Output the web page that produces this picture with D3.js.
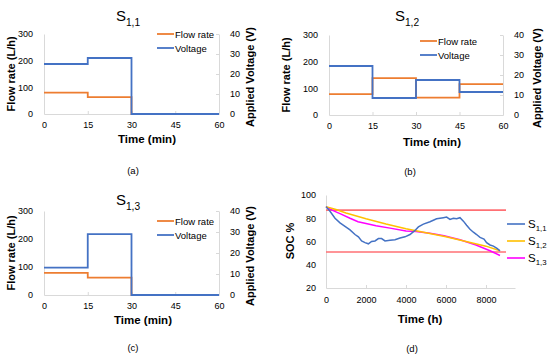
<!DOCTYPE html>
<html>
<head>
<meta charset="utf-8">
<script src="https://cdn.jsdelivr.net/npm/d3@7"></script>
<style>
  body { margin: 0; background: #fff; }
  text { font-family: "Liberation Sans", Arial, sans-serif; fill: #000; }
</style>
</head>
<body>
<script>
// ==========================================
// DATA
// ==========================================

// step profiles (minutes) for S1,1 / S1,2 / S1,3
const stepTimes = [0, 15, 30, 45, 60];
const flowA = [80, 63, 0, 0];
const voltA = [25, 28, 0, 0];
const flowB = [78, 138, 65, 116];
const voltB = [24.5, 8.5, 17.5, 11.5];
const flowC = [79, 62, 0, 0];
const voltC = [13, 29, 0, 0];

const minTicks = [0, 15, 30, 45, 60];
const flowTicks = [0, 100, 200, 300];
const voltTicks = [0, 10, 20, 30, 40];

// SOC over the year (hours)
const timeS11 = [0, 200, 450, 700, 950, 1200, 1450, 1620, 1780, 1950, 2120, 2280, 2450, 2620, 2780, 2950,
  3200, 3450, 3700, 3950, 4200, 4450, 4620, 4870, 5200, 5530, 5870, 6030, 6200, 6370, 6530, 6700,
  6870, 7030, 7200, 7370, 7530, 7700, 7900, 8030, 8200, 8370, 8550, 8700];
const socS11 = [90, 86, 80, 76, 73, 70, 66, 64, 60.5, 59, 58, 60, 60.5, 62.5, 62.5, 60.5,
  61, 61.5, 63, 64, 66, 69.5, 72.5, 75, 77, 79.5, 80.5, 81, 79, 80, 79.5, 80.5,
  77.5, 74, 70.5, 68, 66, 63.5, 62, 59, 57, 56, 54, 52];
const timeS12 = [0, 500, 1000, 2000, 3000, 4000, 5000, 6000, 7000, 8000, 8700];
const socS12 = [90, 87.5, 84.5, 79.5, 75, 71, 67.5, 64, 60, 56, 52];
const timeS13 = [0, 300, 700, 1200, 1600, 2000, 2500, 3200, 4000, 4500, 5200, 5900, 6700, 7500, 8200, 8700];
const socS13 = [90, 87, 84, 80, 77, 75.5, 73.5, 71.5, 69, 68.5, 67, 65, 61.5, 57, 52, 48];
const socLimits = [87, 51];
const limitSpan = [0, 9000];
const hourTicks = [0, 2000, 4000, 6000, 8000];
const socTicks = [20, 40, 60, 80, 100];

// ==========================================
// SETUP
// ==========================================
const W = 550, H = 354;
const axisGrey = "#d9d9d9";
const cFlow = "#ed7d31", cVolt = "#4472c4";

const svg = d3.select("body").append("svg")
  .attr("width", W).attr("height", H);

svg.append("rect").attr("width", W).attr("height", H).attr("fill", "#fff");

function styleAxis(g) {
  g.select(".domain").attr("stroke", axisGrey).attr("stroke-width", 1);
  g.selectAll(".tick line").attr("stroke", axisGrey);
  g.selectAll(".tick text").attr("font-size", 9).attr("fill", "#222")
    .attr("font-family", "'Liberation Sans', Arial, sans-serif");
}

function subTitle(sel, x, y, main, sub, size, anchor) {
  const t = sel.append("text").attr("x", x).attr("y", y)
    .attr("text-anchor", anchor).attr("font-size", size);
  t.append("tspan").text(main);
  t.append("tspan").attr("dy", size * 0.3).attr("font-size", size * 0.68).text(sub);
  return t;
}

// ==========================================
// STEP PANELS (a), (b), (c)
// ==========================================
const panels = [
  {flow: flowA, volt: voltA, sub: "1,1", x0: 44, x1: 219, y0: 34, y1: 114, titleX: 128, titleY: 21,
   legX: 157, legY: 34, tag: "(a)", tagX: 133, tagY: 174, leftX: 11, rightX: 250, xtX: 147, xtY: 143},
  {flow: flowB, volt: voltB, sub: "1,2", x0: 329, x1: 503, y0: 35, y1: 115, titleX: 407, titleY: 21,
   legX: 420, legY: 41, tag: "(b)", tagX: 410, tagY: 175, leftX: 286, rightX: 537, xtX: 432, xtY: 146},
  {flow: flowC, volt: voltC, sub: "1,3", x0: 44, x1: 219, y0: 211, y1: 295, titleX: 128, titleY: 205,
   legX: 157, legY: 221, tag: "(c)", tagX: 133, tagY: 351, leftX: 11, rightX: 250, xtX: 143, xtY: 324}
];

panels.forEach(p => {
  const g = svg.append("g");
  const x = d3.scaleLinear().domain([0, 60]).range([p.x0, p.x1]);
  const yL = d3.scaleLinear().domain([0, 300]).range([p.y1, p.y0]);
  const yR = d3.scaleLinear().domain([0, 40]).range([p.y1, p.y0]);

  g.append("g").attr("transform", `translate(0,${p.y1})`)
    .call(d3.axisBottom(x).tickValues(minTicks).tickSizeInner(-3).tickSizeOuter(0).tickPadding(8))
    .call(styleAxis);
  g.append("g").attr("transform", `translate(${p.x0},0)`)
    .call(d3.axisLeft(yL).tickValues(flowTicks).tickSizeInner(0).tickSizeOuter(0).tickPadding(11))
    .call(styleAxis);
  g.append("g").attr("transform", `translate(${p.x1},0)`)
    .call(d3.axisRight(yR).tickValues(voltTicks).tickSizeInner(-3).tickSizeOuter(0).tickPadding(11))
    .call(styleAxis);

  const pts = arr => stepTimes.map((t, i) => ({t: t, v: arr[Math.min(i, arr.length - 1)]}));
  const lineL = d3.line().x(d => x(d.t)).y(d => yL(d.v)).curve(d3.curveStepAfter);
  const lineR = d3.line().x(d => x(d.t)).y(d => yR(d.v)).curve(d3.curveStepAfter);

  g.append("path").attr("d", lineL(pts(p.flow))).attr("fill", "none")
    .attr("stroke", cFlow).attr("stroke-width", 1.8);
  g.append("path").attr("d", lineR(pts(p.volt))).attr("fill", "none")
    .attr("stroke", cVolt).attr("stroke-width", 1.8);

  // legend
  [["Flow rate", cFlow], ["Voltage", cVolt]].forEach((l, i) => {
    const ly = p.legY + i * 14;
    g.append("line").attr("x1", p.legX).attr("x2", p.legX + 17)
      .attr("y1", ly).attr("y2", ly).attr("stroke", l[1]).attr("stroke-width", 1.8);
    g.append("text").attr("x", p.legX + 18).attr("y", ly + 3.5)
      .attr("font-size", 9.5).attr("fill", "#222").text(l[0]);
  });

  // titles
  subTitle(g, p.titleX, p.titleY, "S", p.sub, 15, "middle");
  g.append("text").attr("transform", `translate(${p.leftX},${(p.y0 + p.y1) / 2}) rotate(-90)`)
    .attr("dy", "0.35em").attr("text-anchor", "middle").attr("font-weight", "bold")
    .attr("font-size", 11).text("Flow rate (L/h)");
  g.append("text").attr("transform", `translate(${p.rightX},${(p.y0 + p.y1) / 2 + 3}) rotate(-90)`)
    .attr("dy", "0.35em").attr("text-anchor", "middle").attr("font-weight", "bold")
    .attr("font-size", 11).text("Applied Voltage (V)");
  g.append("text").attr("x", p.xtX).attr("y", p.xtY).attr("text-anchor", "middle")
    .attr("font-weight", "bold").attr("font-size", 11.5).text("Time (min)");
  g.append("text").attr("x", p.tagX).attr("y", p.tagY).attr("text-anchor", "middle")
    .attr("font-family", "'Liberation Serif', serif").attr("font-size", 9.5).text(p.tag);
});

// ==========================================
// SOC PANEL (d)
// ==========================================
const gd = svg.append("g");
const xd = d3.scaleLinear().domain([0, 9450]).range([326, 515]);
const yd = d3.scaleLinear().domain([20, 100]).range([288, 195]);

gd.append("g").attr("transform", "translate(0,288)")
  .call(d3.axisBottom(xd).tickValues(hourTicks).tickFormat(d3.format("d"))
    .tickSizeInner(-3).tickSizeOuter(0).tickPadding(9))
  .call(styleAxis);
gd.append("g").attr("transform", "translate(326,0)")
  .call(d3.axisLeft(yd).tickValues(socTicks).tickSizeInner(0).tickSizeOuter(0).tickPadding(10))
  .call(styleAxis);

socLimits.forEach(v => {
  gd.append("line").attr("x1", xd(limitSpan[0])).attr("x2", xd(limitSpan[1]))
    .attr("y1", yd(v)).attr("y2", yd(v)).attr("stroke", "#ff7074").attr("stroke-width", 1.6);
});

const socSeries = [
  {t: timeS11, v: socS11, c: "#4472c4", sub: "1,1"},
  {t: timeS12, v: socS12, c: "#ffc000", sub: "1,2"},
  {t: timeS13, v: socS13, c: "#ff00ff", sub: "1,3"}
];
const socLine = d3.line().x(d => xd(d[0])).y(d => yd(d[1]));

// draw magenta and yellow first, blue noisy curve on top like the reference
[2, 1, 0].forEach(i => {
  const s = socSeries[i];
  gd.append("path").attr("d", socLine(d3.zip(s.t, s.v))).attr("fill", "none")
    .attr("stroke", s.c).attr("stroke-width", 1.5);
});

socSeries.forEach((s, i) => {
  const ly = 224 + i * 17;
  gd.append("line").attr("x1", 507).attr("x2", 525).attr("y1", ly).attr("y2", ly)
    .attr("stroke", s.c).attr("stroke-width", 1.6);
  subTitle(gd, 528, ly + 4, "S", s.sub, 11.5, "start").attr("fill", "#222");
});

gd.append("text").attr("transform", "translate(290,241) rotate(-90)")
  .attr("dy", "0.35em").attr("text-anchor", "middle").attr("font-weight", "bold")
  .attr("font-size", 11).text("SOC %");
gd.append("text").attr("x", 420).attr("y", 323).attr("text-anchor", "middle")
  .attr("font-weight", "bold").attr("font-size", 11.5).text("Time (h)");
gd.append("text").attr("x", 412).attr("y", 352).attr("text-anchor", "middle")
  .attr("font-family", "'Liberation Serif', serif").attr("font-size", 9.5).text("(d)");
</script>
</body>
</html>
